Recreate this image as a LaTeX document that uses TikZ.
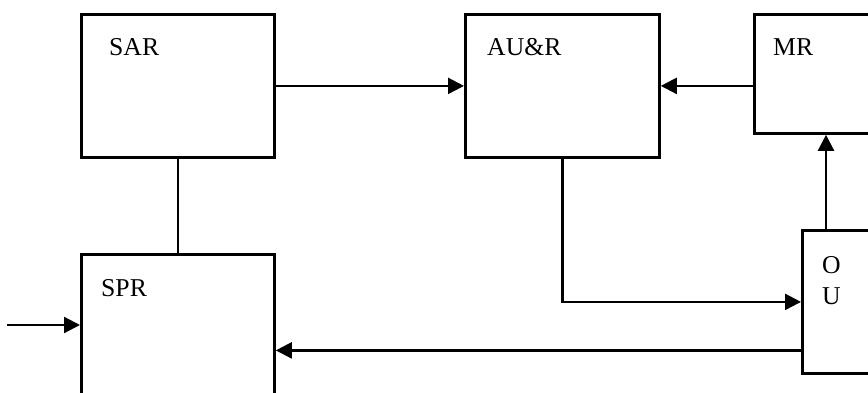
\documentclass[tikz,border=0pt]{standalone}
\usepackage{fontspec}
\setmainfont{Liberation Serif}
\usepackage{tikz}
\usetikzlibrary{arrows.meta,positioning,calc}
\tikzset{
  blk/.style={draw=black, line width=2.8pt, rectangle, inner sep=0pt, anchor=north west},
  lbl/.style={anchor=base west, inner sep=0pt, font=\fontsize{25.7}{30}\selectfont},
  flow/.style={-{Triangle[length=16pt,width=16pt]}, line width=2.3pt, draw=black},
  link/.style={line width=2.3pt, draw=black},
}
\begin{document}
\begin{tikzpicture}[x=1pt, y=-1pt]
    \useasboundingbox (0,0) rectangle (868,393);
    \clip (0,0) rectangle (868,393);
    \node[blk, minimum width=193pt, minimum height=143pt] (sar) at (80,13) {};
    \node[blk, minimum width=194pt, minimum height=143pt] (aur) at (464,13) {};
    \node[blk, minimum width=160pt, minimum height=119pt] (mr) at (753,13) {};
    \node[blk, minimum width=150pt, minimum height=143pt] (ou) at (801,229) {};
    \node[blk, minimum width=193pt, minimum height=170pt] (spr) at (80,253) {};
    % box titles
    \node[lbl] (sart) at ($(sar.north west)+(29,43)$) {SAR};
    \node[lbl] (aurt) at ($(aur.north west)+(23,43)$) {AU\&R};
    \node[lbl] (mrt) at ($(mr.north west)+(20,43)$) {MR};
    \node[lbl] (sprt) at ($(spr.north west)+(21,43)$) {SPR};
    \node[lbl] (out) at ($(ou.north west)+(21,44)$) {O};
    \node[lbl] (ouu) at ($(ou.north west)+(21,75)$) {U};
    % connectors
    \coordinate (src) at (7,325);
    \coordinate (oubot) at ($(ou.west)+(0,48.5)$);
    \coordinate (outop) at ($(ou.north west)+(25,0)$);
    \draw[flow] (sar.east) -- (aur.east -| aur.west);
    \draw[flow] (mr.west |- aur.east) -- (aur.east);
    \draw[flow] (outop) -- (outop |- mr.south);
    \draw[flow] (aur.south) |- (ou.west);
    \draw[flow] (oubot) -- (oubot -| spr.east);
    \draw[flow] (src) -- (src -| spr.west);
    \draw[link] (sar.south) -- (spr.north);
\end{tikzpicture}
\end{document}
